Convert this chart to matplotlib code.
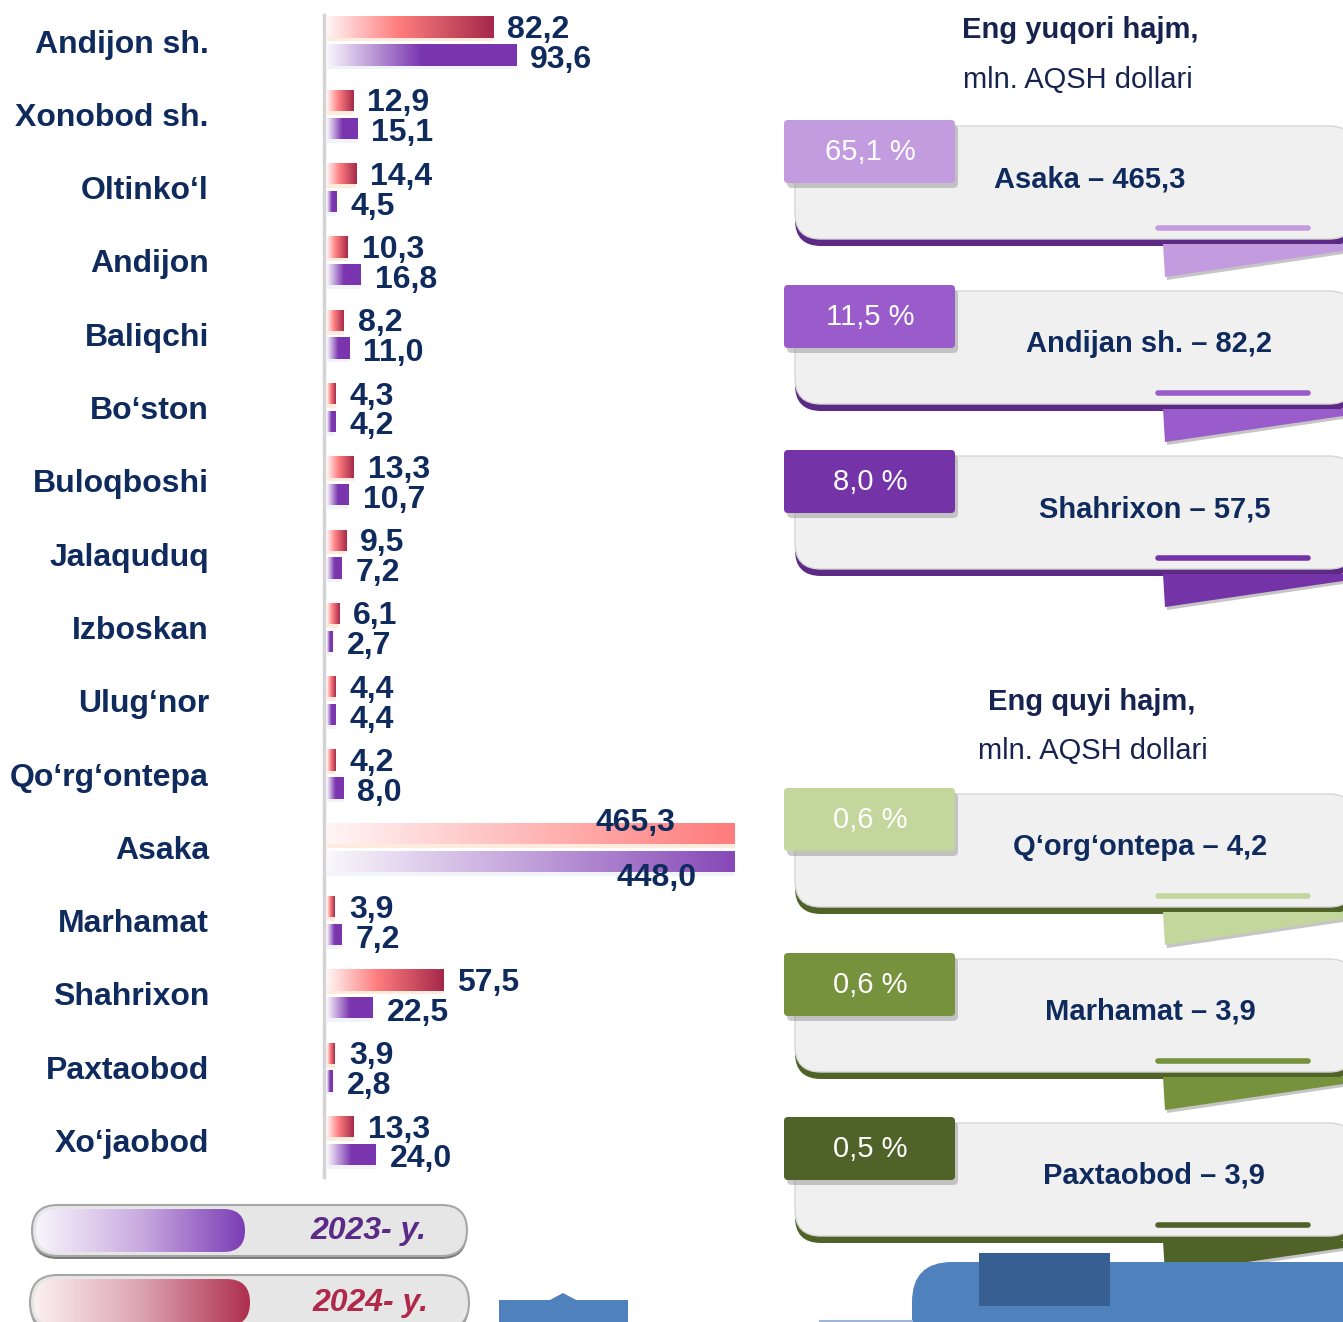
import numpy as np
import matplotlib
matplotlib.use("Agg")
import matplotlib.pyplot as plt
from matplotlib.patches import FancyBboxPatch, Rectangle, Polygon
from matplotlib.colors import LinearSegmentedColormap
from matplotlib import font_manager as fm

# ---------------- data ----------------
categories = ["Andijon sh.", "Xonobod sh.", "Oltinko‘l", "Andijon", "Baliqchi", "Bo‘ston",
              "Buloqboshi", "Jalaquduq", "Izboskan", "Ulug‘nor", "Qo‘rg‘ontepa", "Asaka",
              "Marhamat", "Shahrixon", "Paxtaobod", "Xo‘jaobod"]
values_2024 = [82.2, 12.9, 14.4, 10.3, 8.2, 4.3, 13.3, 9.5, 6.1, 4.4, 4.2, 465.3, 3.9, 57.5, 3.9, 13.3]
values_2023 = [93.6, 15.1, 4.5, 16.8, 11.0, 4.2, 10.7, 7.2, 2.7, 4.4, 8.0, 448.0, 7.2, 22.5, 2.8, 24.0]
legend_labels = ["2023- y.", "2024- y."]

top_title = "Eng yuqori hajm,"
low_title = "Eng quyi hajm,"
unit_text = "mln. AQSH dollari"
top_names = ["Asaka", "Andijan sh.", "Shahrixon"]
top_values = [465.3, 82.2, 57.5]
top_shares = [65.1, 11.5, 8.0]
low_names = ["Q‘org‘ontepa", "Marhamat", "Paxtaobod"]
low_values = [4.2, 3.9, 3.9]
low_shares = [0.6, 0.6, 0.5]

# ---------------- style ----------------
NAVY = "#0f2a5c"
W, H = 1343, 1322
names = {f.name for f in fm.fontManager.ttflist}
if "Liberation Sans Narrow" in names:
    NARROW = dict(family="Liberation Sans Narrow")
    nscale = 1.0
else:
    NARROW = dict(family="Liberation Sans")
    nscale = 0.84

def fmt(v):
    return f"{v:.1f}".replace(".", ",")

red_cmap = LinearSegmentedColormap.from_list("r", [(0, "#fff4f4"), (0.42, "#ff7f7f"), (1, "#a5284a")])
pur_cmap = LinearSegmentedColormap.from_list("p", [(0, "#f9f6fc"), (0.5, "#7a35af"), (1, "#7a35af")])
leg_pur = LinearSegmentedColormap.from_list("lp", ["#f8f5fc", "#c9abe0", "#7b3db5"])
leg_red = LinearSegmentedColormap.from_list("lr", ["#fbf0f2", "#dca3b0", "#ae2f4e"])
grad = np.linspace(0, 1, 256).reshape(1, -1)

fig = plt.figure(figsize=(W / 100, H / 100), dpi=100)
fig.patch.set_facecolor("white")

bg = fig.add_axes([0, 0, 1, 1])
bg.set_xlim(0, W)
bg.set_ylim(H, 0)
bg.axis("off")
bg.patch.set_alpha(0)

# ---------------- bar chart ----------------
top_px, bot_px = 4.35, 1177.15
ax = fig.add_axes([327 / W, 1 - bot_px / H, 408 / W, (bot_px - top_px) / H])
ax.patch.set_alpha(0)
XMAX = 202
y = np.arange(len(categories))
off, bh = 0.19, 0.29

for s in ("top", "right", "bottom"):
    ax.spines[s].set_visible(False)
ax.spines["left"].set_position(("outward", 2))
ax.spines["left"].set_color("#d4d4d4")
ax.spines["left"].set_linewidth(2.5)

ax.barh(y - off + 0.05, values_2024, height=bh, color="#fcdcc4", alpha=0.55, zorder=1)
ax.barh(y + off + 0.05, values_2023, height=bh, color="#e6ebf3", alpha=0.6, zorder=1)
bars_r = ax.barh(y - off, values_2024, height=bh, color="none", zorder=3)
bars_p = ax.barh(y + off, values_2023, height=bh, color="none", zorder=3)
for bars, cmap in ((bars_r, red_cmap), (bars_p, pur_cmap)):
    for b in bars:
        x0, y0, w, h = b.get_x(), b.get_y(), b.get_width(), b.get_height()
        vis = min(w, XMAX - x0)
        frac = vis / w
        g = np.linspace(0, frac, 256).reshape(1, -1)
        im = ax.imshow(g, extent=[x0, x0 + vis, y0 + h, y0], aspect="auto", cmap=cmap,
                       vmin=0, vmax=1, interpolation="bicubic", zorder=2)
        im.set_clip_path(b)

ax.set_xlim(0, XMAX)
ax.set_ylim(len(categories) - 0.5, -0.5)

lab = dict(fontsize=23, fontweight="bold", color=NAVY, family="Liberation Sans", va="center")
for i in range(len(categories)):
    v = values_2024[i]
    if v <= XMAX:
        ax.annotate(fmt(v), (v, y[i] - off), xytext=(14, -3), textcoords="offset pixels", ha="left", **lab)
    else:
        ax.annotate(fmt(v), (XMAX, y[i] - off), xytext=(-60, 10), textcoords="offset pixels",
                    ha="right", annotation_clip=False, zorder=5, **lab)
    v = values_2023[i]
    if v <= XMAX:
        ax.annotate(fmt(v), (v, y[i] + off), xytext=(14, -5), textcoords="offset pixels", ha="left", **lab)
    else:
        ax.annotate(fmt(v), (XMAX, y[i] + off), xytext=(-38, -17), textcoords="offset pixels",
                    ha="right", annotation_clip=False, zorder=5, **lab)

ax.set_xticks([])
ax.set_yticks(y)
ax.set_yticklabels(categories, fontsize=23, fontweight="bold", color=NAVY, family="Liberation Sans")
ax.tick_params(axis="y", length=0, pad=83)
ax.spines["left"].set_bounds(-0.36, len(categories) - 0.5)

# ---------------- legend pills ----------------
def pill(x0, y0, x1, y1, gx1, cmap, text, tcolor):
    hh = y1 - y0
    sh = FancyBboxPatch((x0, y0 + 3), x1 - x0, hh, boxstyle=f"round,pad=0,rounding_size={hh/2}",
                        fc="#7a7a7a", ec="none", zorder=2)
    bg.add_patch(sh)
    outer = FancyBboxPatch((x0, y0), x1 - x0, hh, boxstyle=f"round,pad=0,rounding_size={hh/2}",
                           fc="#e6e6e6", ec="#a6a6a6", lw=1.5, zorder=3)
    bg.add_patch(outer)
    ih = hh - 8
    inner = FancyBboxPatch((x0 + 4, y0 + 4), gx1 - x0 - 4, ih, boxstyle=f"round,pad=0,rounding_size={ih/2}",
                           fc="none", ec="none", zorder=4)
    bg.add_patch(inner)
    im = bg.imshow(grad, extent=[x0 + 4, gx1, y0 + 4 + ih, y0 + 4], aspect="auto", cmap=cmap,
                   interpolation="bicubic", zorder=4)
    im.set_clip_path(inner)
    bg.text(x1 - 40, y0 + hh / 2 + 1, text, ha="right", va="center", fontsize=23, fontweight="bold",
            fontstyle="italic", color=tcolor, family="Liberation Sans", zorder=5)

pill(32, 1205, 467, 1256, 245, leg_pur, legend_labels[0], "#5a2a86")
pill(30, 1275, 469, 1330, 250, leg_red, legend_labels[1], "#b0294a")

# ---------------- cards ----------------
def card(top, color, border, pct, text, tx):
    bg.add_patch(FancyBboxPatch((795, top + 12), 560, 114, boxstyle="round,pad=0,rounding_size=26",
                                fc=border, ec="none", zorder=1))
    bg.add_patch(FancyBboxPatch((795, top + 6), 560, 113, boxstyle="round,pad=0,rounding_size=26",
                                fc="#f0f0f0", ec="#d6d6d6", lw=1, zorder=2))
    bg.add_patch(Polygon([(1165, top + 130), (1343, top + 126), (1343, top + 134), (1167, top + 160)],
                         closed=True, fc="#8c8c8c", ec="none", alpha=0.5, zorder=1.5))
    bg.add_patch(Polygon([(1163, top + 124), (1343, top + 124), (1343, top + 131), (1165, top + 157)],
                         closed=True, fc=color, ec="none", zorder=1.6))
    bg.plot([1158, 1308], [top + 108, top + 108], color=color, lw=4, solid_capstyle="round", zorder=3)
    bg.add_patch(FancyBboxPatch((787, top + 5), 171, 63, boxstyle="round,pad=0,rounding_size=5",
                                fc="#8a8a8a", ec="none", alpha=0.45, zorder=3))
    bg.add_patch(FancyBboxPatch((784, top), 171, 63, boxstyle="round,pad=0,rounding_size=4",
                                fc=color, ec="none", zorder=4))
    bg.text(870, top + 32, pct, ha="center", va="center", color="white", fontsize=25 * nscale,
            zorder=5, **NARROW)
    bg.text(tx, top + 59, text, ha="center", va="center", color=NAVY, fontsize=25 * nscale,
            fontweight="bold", zorder=5, **NARROW)

top_colors = ["#c39ce0", "#9a5bcb", "#7434a8"]
low_colors = ["#c3d69b", "#76923c", "#4f6228"]
top_tops = [120, 285, 450]
low_tops = [788, 953, 1117]
top_tx = [1090, 1149, 1155]
low_tx = [1140, 1150, 1154]

for k in range(3):
    card(top_tops[k], top_colors[k], "#5c2a84", f"{fmt(top_shares[k])} %",
         f"{top_names[k]} – {fmt(top_values[k])}", top_tx[k])
    card(low_tops[k], low_colors[k], "#4f6228", f"{fmt(low_shares[k])} %",
         f"{low_names[k]} – {fmt(low_values[k])}", low_tx[k])

bg.text(1080, 30, top_title, ha="center", va="center", color="#17234f", fontsize=25 * nscale,
        fontweight="bold", **NARROW)
bg.text(1078, 80, unit_text, ha="center", va="center", color="#17234f", fontsize=25 * nscale, **NARROW)
bg.text(1092, 702, low_title, ha="center", va="center", color="#17234f", fontsize=25 * nscale,
        fontweight="bold", **NARROW)
bg.text(1093, 751, unit_text, ha="center", va="center", color="#17234f", fontsize=25 * nscale, **NARROW)

# ---------------- bottom decorations ----------------
bg.add_patch(Rectangle((499, 1300), 129, 30, fc="#4f81bd", ec="none", zorder=6))
bg.add_patch(Polygon([(548, 1301), (563, 1293), (578, 1301)], closed=True, fc="#4f81bd", ec="none", zorder=6))
bg.add_patch(FancyBboxPatch((912, 1262), 520, 120, boxstyle="round,pad=0,rounding_size=40",
                            fc="#4f81bd", ec="none", zorder=6))
bg.add_patch(Rectangle((979, 1253), 131, 53, fc="#375f92", ec="none", zorder=7))
bg.plot([820, 912], [1321, 1321], color="#9fb6d6", lw=1.5, zorder=6)

bg.set_xlim(0, W)
bg.set_ylim(H, 0)

fig.savefig("out.png", dpi=100, facecolor="white")
